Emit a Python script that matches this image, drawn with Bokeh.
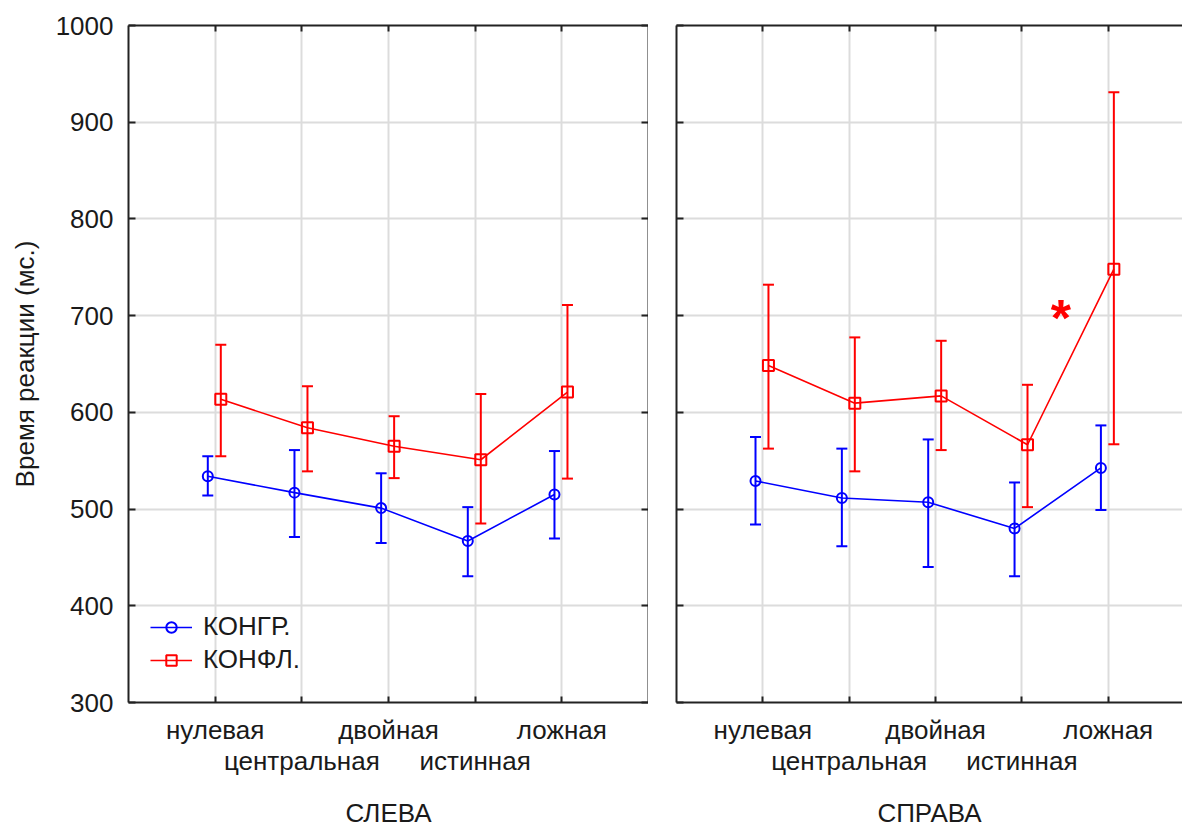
from bokeh.plotting import figure
from bokeh.models import (ColumnDataSource, FixedTicker, LinearAxis, Range1d,
                          Whisker, TeeHead, Legend, LegendItem)
from bokeh.layouts import row
from bokeh.embed import file_html
from bokeh.resources import INLINE
from bokeh.core.properties import value

# ---------------- data ----------------
categories = ["нулевая", "центральная", "двойная", "истинная", "ложная"]
y_ticks = [300, 400, 500, 600, 700, 800, 900, 1000]
panel_names = ["СЛЕВА", "СПРАВА"]
series_names = ["КОНГР.", "КОНФЛ."]
y_title = "Время реакции (мс.)"

left_congr_mean = [534, 517, 501, 467, 515]
left_congr_low = [514, 471, 465, 430.5, 469.5]
left_congr_high = [554.5, 561, 537, 502, 560]
left_confl_mean = [613.5, 584, 565, 551, 621]
left_confl_low = [554.5, 539, 532, 485, 531.5]
left_confl_high = [670, 627, 596, 619, 711]

right_congr_mean = [529, 511.5, 507, 480, 542.5]
right_congr_low = [484, 461.5, 440, 430.5, 499]
right_congr_high = [574.5, 562.5, 572, 527.5, 586.5]
right_confl_mean = [648.5, 609.5, 617, 566.5, 748]
right_confl_low = [562.5, 539, 561, 502, 567]
right_confl_high = [732, 677.5, 674, 628.5, 931]

star_position = 4.45   # between "истинная" and "ложная", right panel
star_value = 704
star_text = "*"

# ---------------- style ----------------
FONT = "Liberation Sans"
FS = "26px"
TXT = "#1a1a1a"
AX = "#222222"
GRID = "#dcdcdc"
BLUE = "#0000ff"
RED = "#ff0000"
DODGE = {"congr": -0.085, "confl": 0.065}

cat_pos = list(range(1, len(categories) + 1))
odd_pos = cat_pos[0::2]
even_pos = cat_pos[1::2]


def style_axis(ax, tick_in):
    ax.axis_line_color = AX
    ax.axis_line_width = 2
    ax.major_tick_line_color = AX
    ax.major_tick_line_width = 2
    ax.major_tick_in = tick_in
    ax.major_tick_out = 0
    ax.minor_tick_line_color = None
    ax.major_label_text_font = FONT
    ax.major_label_text_font_size = FS
    ax.major_label_text_color = TXT
    ax.axis_label_text_font = FONT
    ax.axis_label_text_font_size = FS
    ax.axis_label_text_color = TXT
    ax.axis_label_text_font_style = "normal"


def hide_labels(ax, ticks):
    ax.major_label_overrides = {t: "" for t in ticks}
    ax.major_label_text_font_size = "1px"
    ax.major_label_standoff = 0


def add_series(p, mean, low, high, color, marker, msize, dodge):
    xs = [c + dodge for c in cat_pos]
    src = ColumnDataSource(dict(x=xs, mean=mean, low=low, high=high))
    w = Whisker(base="x", upper="high", lower="low", source=src,
                line_color=color, line_width=2, level="glyph",
                upper_head=TeeHead(size=11, line_color=color, line_width=2),
                lower_head=TeeHead(size=11, line_color=color, line_width=2))
    p.add_layout(w)
    ln = p.line("x", "mean", source=src, line_color=color, line_width=1.6)
    sc = p.scatter("x", "mean", source=src, marker=marker, size=msize,
                   fill_color=None, line_color=color, line_width=2)
    return ln, sc


def make_panel(name, congr, confl, is_left, frame_w, x_end, border_left):
    p = figure(frame_width=frame_w, frame_height=677,
               x_range=Range1d(0, x_end), y_range=Range1d(300, 1000),
               output_backend="svg", toolbar_location=None,
               min_border_left=border_left, min_border_right=0,
               min_border_top=25, min_border_bottom=126,
               outline_line_color=None, background_fill_color="white",
               border_fill_color="white")
    # grid
    p.xgrid.ticker = FixedTicker(ticks=cat_pos)
    p.ygrid.ticker = FixedTicker(ticks=y_ticks)
    for g in (p.xgrid[0], p.ygrid[0]):
        g.grid_line_color = GRID
        g.grid_line_width = 2

    # bottom axis (row 1 labels)
    xa = p.xaxis[0]
    xa.ticker = FixedTicker(ticks=cat_pos)
    xa.major_label_overrides = {c: (categories[c - 1] if c in odd_pos else "") for c in cat_pos}
    style_axis(xa, 6)
    xa.major_label_standoff = 12

    # second bottom axis (row 2 labels + panel name)
    xb = LinearAxis(ticker=FixedTicker(ticks=even_pos),
                    major_label_overrides={c: categories[c - 1] for c in even_pos},
                    axis_label=name)
    style_axis(xb, 0)
    xb.axis_line_color = None
    xb.major_tick_line_color = None
    xb.major_label_standoff = -2
    xb.axis_label_standoff = 19
    p.add_layout(xb, "below")

    # top axis
    xt = LinearAxis(ticker=FixedTicker(ticks=cat_pos))
    style_axis(xt, 6)
    hide_labels(xt, cat_pos)
    p.add_layout(xt, "above")

    # left axis
    ya = p.yaxis[0]
    ya.ticker = FixedTicker(ticks=y_ticks)
    style_axis(ya, 7)
    if is_left:
        ya.major_label_standoff = 15
        ya.axis_label = y_title
        ya.axis_label_standoff = 13
    else:
        hide_labels(ya, y_ticks)

    if is_left:
        yr = LinearAxis(ticker=FixedTicker(ticks=y_ticks))
        style_axis(yr, 7)
        hide_labels(yr, y_ticks)
        p.add_layout(yr, "right")

    r_b = add_series(p, congr[0], congr[1], congr[2], BLUE, "circle", 10, DODGE["congr"])
    r_r = add_series(p, confl[0], confl[1], confl[2], RED, "square", 11, DODGE["confl"])
    return p, r_b, r_r


pL, lb, lr = make_panel(panel_names[0],
                        (left_congr_mean, left_congr_low, left_congr_high),
                        (left_confl_mean, left_confl_low, left_confl_high),
                        True, 520, 6, 128)
pR, rb, rr = make_panel(panel_names[1],
                        (right_congr_mean, right_congr_low, right_congr_high),
                        (right_confl_mean, right_confl_low, right_confl_high),
                        False, 506, 5.86, 28)

legend = Legend(items=[LegendItem(label=series_names[0], renderers=list(lb)),
                       LegendItem(label=series_names[1], renderers=list(lr))],
                location=(22, 27), orientation="vertical",
                label_text_font=FONT, label_text_font_size=FS, label_text_color=TXT,
                glyph_width=42, glyph_height=26, label_height=26, spacing=2,
                padding=0, margin=0, label_standoff=11,
                border_line_color=None, background_fill_alpha=0)
pL.add_layout(legend)

pR.text(x=[star_position], y=[star_value], text=[star_text],
        text_color=RED, text_font=value(FONT), text_font_size="52px",
        text_font_style="bold", text_align="center", text_baseline="middle",
        y_offset=6)

layout = row(pL, pR)
open("out.html", "w").write(file_html(layout, INLINE))
